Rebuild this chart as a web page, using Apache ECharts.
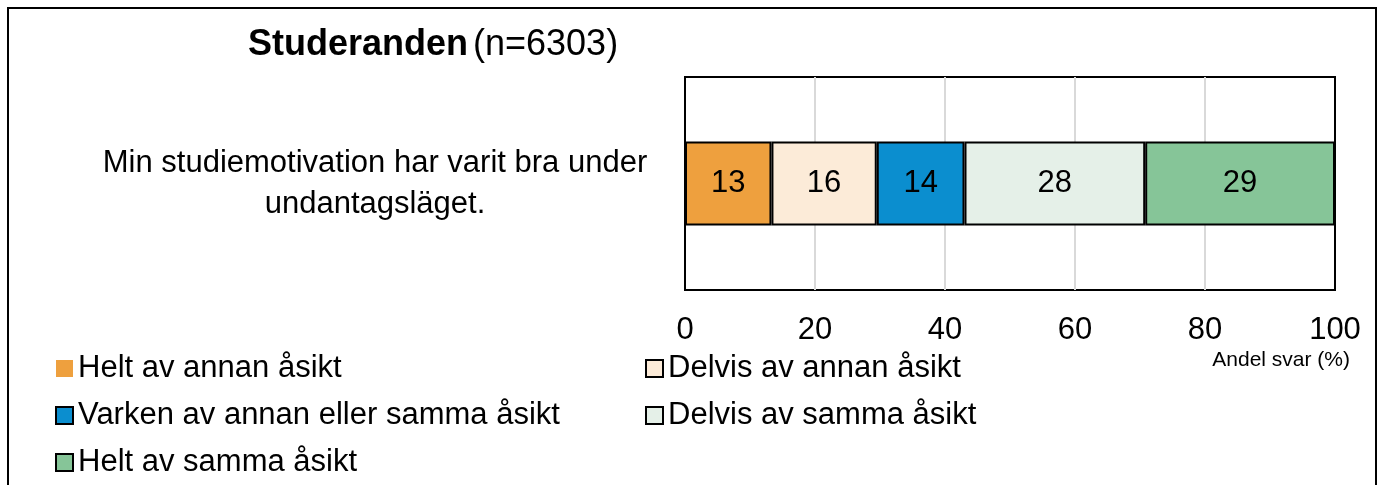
<!DOCTYPE html>
<html>
<head>
<meta charset="utf-8">
<script src="https://cdn.jsdelivr.net/npm/echarts@6/dist/echarts.min.js"></script>
<style>
  html, body { margin: 0; padding: 0; background: #fff; }
  #chart { width: 1378px; height: 485px; }
</style>
</head>
<body>
<div id="chart"></div>
<script>
const categories = ['Min studiemotivation har varit bra under\nundantagsläget.'];
const seriesNames = [
  'Helt av annan åsikt',
  'Delvis av annan åsikt',
  'Varken av annan eller samma åsikt',
  'Delvis av samma åsikt',
  'Helt av samma åsikt'
];
const seriesValues = [[13.3], [16.2], [13.5], [27.8], [29.2]];
const seriesColors = ['#EEA03E', '#FCEBD8', '#0B8ECF', '#E5F0E8', '#86C598'];
const xTicks = [0, 20, 40, 60, 80, 100];

const font = '"Liberation Sans", Arial, sans-serif';
const chart = echarts.init(document.getElementById('chart'));

const series = seriesNames.map((name, i) => ({
  name,
  type: 'bar',
  stack: 'total',
  barWidth: 84,
  data: seriesValues[i],
  itemStyle: { color: seriesColors[i], borderColor: '#000', borderWidth: 2 },
  label: {
    show: true,
    position: 'inside',
    color: '#000',
    fontFamily: font,
    fontSize: 31,
    formatter: p => Math.round(p.value)
  }
}));

const legendBase = {
  orient: 'vertical',
  top: 348,
  height: 140,
  itemWidth: 17,
  itemHeight: 17,
  itemGap: 16,
  icon: 'rect',
  textStyle: { fontFamily: font, fontSize: 31, color: '#000', lineHeight: 30, padding: [0, 0, 0, 0] },
  itemStyle: { borderColor: '#000', borderWidth: 2 }
};

chart.setOption({
  animation: false,
  title: {
    left: 243,
    top: 22,
    text: '{b|Studeranden} {n|(n=6303)}',
    textStyle: {
      rich: {
        b: { fontFamily: font, fontSize: 36, fontWeight: 'bold', color: '#000' },
        n: { fontFamily: font, fontSize: 36, fontWeight: 'normal', color: '#000' }
      }
    }
  },
  legend: [
    Object.assign({}, legendBase, {
      left: 50,
      data: [
        { name: seriesNames[0], itemStyle: { borderWidth: 0 } },
        seriesNames[2],
        seriesNames[4]
      ]
    }),
    Object.assign({}, legendBase, {
      left: 640,
      data: [seriesNames[1], seriesNames[3]]
    })
  ],
  graphic: [
    {
      type: 'rect',
      shape: { x: 8, y: 8, width: 1368, height: 490 },
      style: { fill: 'none', stroke: '#000', lineWidth: 2 },
      silent: true
    },
    {
      type: 'text',
      right: 28,
      top: 350,
      style: { text: 'Andel svar (%)', fontFamily: font, fontSize: 21, fill: '#000' }
    }
  ],
  grid: {
    left: 685,
    right: 43,
    top: 77,
    bottom: 195,
    show: true,
    borderColor: '#000',
    borderWidth: 2,
    backgroundColor: 'transparent'
  },
  xAxis: {
    type: 'value',
    min: 0,
    max: 100,
    interval: 20,
    axisLine: { show: false },
    axisTick: { show: false },
    splitLine: {
      show: true,
      showMinLine: false,
      showMaxLine: false,
      lineStyle: { color: '#D9D9D9', width: 2 }
    },
    axisLabel: {
      margin: 25,
      fontFamily: font,
      fontSize: 31,
      color: '#000',
      formatter: v => (xTicks.includes(v) ? String(v) : '')
    }
  },
  yAxis: {
    type: 'category',
    data: categories,
    axisLine: { show: false },
    axisTick: { show: false },
    axisLabel: {
      margin: 310,
      align: 'center',
      fontFamily: font,
      fontSize: 31,
      lineHeight: 41,
      color: '#000'
    }
  },
  series
});
</script>
</body>
</html>
